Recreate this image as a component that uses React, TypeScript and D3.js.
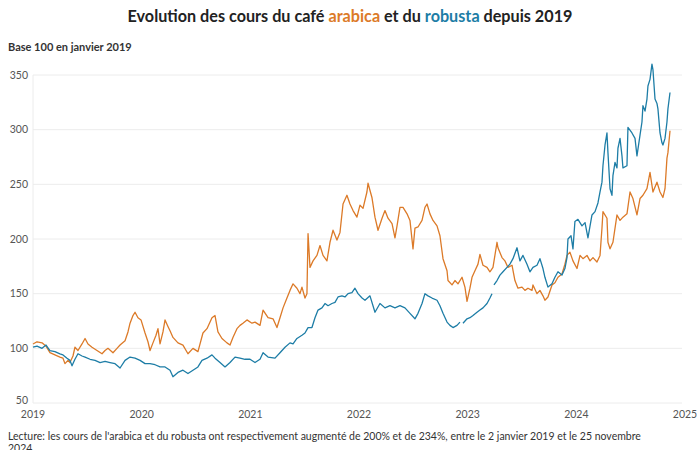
import React from 'react';
import * as d3 from 'd3';

const yearTicks = [2019, 2020, 2021, 2022, 2023, 2024, 2025];
const valueTicks = [50, 100, 150, 200, 250, 300, 350];

const arabicaT = [
  2019.000, 2019.037, 2019.083, 2019.120, 2019.156, 2019.202, 2019.248, 2019.276, 2019.294, 2019.322,
  2019.340, 2019.368, 2019.386, 2019.414, 2019.451, 2019.479, 2019.506, 2019.543, 2019.589, 2019.635,
  2019.663, 2019.690, 2019.736, 2019.773, 2019.801, 2019.847, 2019.874, 2019.893, 2019.920, 2019.939,
  2019.966, 2019.994, 2020.031, 2020.058, 2020.077, 2020.104, 2020.132, 2020.150, 2020.169, 2020.196,
  2020.215, 2020.242, 2020.261, 2020.288, 2020.334, 2020.380, 2020.426, 2020.472, 2020.518, 2020.564,
  2020.601, 2020.647, 2020.675, 2020.702, 2020.739, 2020.785, 2020.813, 2020.840, 2020.877, 2020.905,
  2020.932, 2020.969, 2021.015, 2021.043, 2021.089, 2021.117, 2021.163, 2021.209, 2021.245, 2021.273,
  2021.301, 2021.337, 2021.365, 2021.393, 2021.429, 2021.457, 2021.475, 2021.503, 2021.521, 2021.531,
  2021.549, 2021.577, 2021.613, 2021.641, 2021.669, 2021.705, 2021.733, 2021.761, 2021.797, 2021.825,
  2021.853, 2021.889, 2021.917, 2021.945, 2021.981, 2022.009, 2022.037, 2022.073, 2022.083, 2022.119,
  2022.147, 2022.175, 2022.212, 2022.239, 2022.267, 2022.304, 2022.331, 2022.350, 2022.377, 2022.405,
  2022.442, 2022.469, 2022.497, 2022.515, 2022.543, 2022.580, 2022.607, 2022.626, 2022.653, 2022.681,
  2022.718, 2022.745, 2022.773, 2022.810, 2022.819, 2022.856, 2022.883, 2022.911, 2022.948, 2022.975,
  2022.994, 2023.021, 2023.040, 2023.067, 2023.095, 2023.113, 2023.141, 2023.178, 2023.205, 2023.233,
  2023.270, 2023.279, 2023.316, 2023.343, 2023.371, 2023.408, 2023.435, 2023.463, 2023.500, 2023.527,
  2023.555, 2023.592, 2023.601, 2023.638, 2023.665, 2023.693, 2023.711, 2023.739, 2023.776, 2023.803,
  2023.831, 2023.868, 2023.895, 2023.914, 2023.941, 2023.969, 2024.006, 2024.034, 2024.061, 2024.098,
  2024.126, 2024.153, 2024.190, 2024.218, 2024.236, 2024.245, 2024.282, 2024.291, 2024.310, 2024.337,
  2024.374, 2024.402, 2024.429, 2024.466, 2024.494, 2024.521, 2024.558, 2024.586, 2024.613, 2024.650,
  2024.678, 2024.696, 2024.705, 2024.742, 2024.770, 2024.797, 2024.816, 2024.834, 2024.843, 2024.862,
];
const arabicaV = [
  104, 106, 105, 102, 96, 94, 92, 91, 86, 89,
  87, 93, 101, 98, 104, 109, 104, 101, 98, 95,
  98, 100, 96, 100, 103, 107, 115, 123, 130, 133,
  128, 126, 114, 106, 98, 105, 112, 118, 104, 115,
  126, 120, 116, 110, 105, 103, 95, 100, 97, 114,
  118, 128, 130, 115, 109, 105, 103, 110, 118, 121,
  123, 126, 123, 124, 121, 135, 128, 127, 119, 128,
  137, 146, 153, 159, 155, 150, 156, 146, 150, 205,
  174, 180, 185, 194, 185, 180, 197, 208, 199, 206,
  232, 240, 232, 226, 220, 231, 228, 243, 251, 238,
  220, 208, 219, 226, 219, 214, 201, 212, 229, 229,
  223, 217, 191, 210, 211, 217, 229, 232, 223, 217,
  212, 203, 182, 171, 162, 158, 162, 159, 165, 156,
  143, 155, 165, 171, 177, 186, 176, 174, 170, 174,
  197, 192, 183, 180, 174, 176, 162, 155, 156, 153,
  155, 153, 158, 150, 153, 148, 144, 147, 158, 160,
  165, 168, 177, 185, 188, 180, 173, 185, 182, 185,
  180, 183, 179, 185, 210, 225, 219, 197, 191, 197,
  222, 217, 220, 223, 243, 237, 222, 237, 240, 246,
  261, 249, 243, 252, 243, 238, 246, 274, 279, 299,
];

const robustaT = [
  2019.000, 2019.037, 2019.083, 2019.120, 2019.156, 2019.202, 2019.248, 2019.276, 2019.313, 2019.340,
  2019.359, 2019.386, 2019.414, 2019.451, 2019.479, 2019.525, 2019.571, 2019.617, 2019.663, 2019.709,
  2019.755, 2019.801, 2019.847, 2019.893, 2019.939, 2019.985, 2020.031, 2020.077, 2020.123, 2020.169,
  2020.215, 2020.261, 2020.288, 2020.334, 2020.380, 2020.426, 2020.472, 2020.518, 2020.555, 2020.601,
  2020.647, 2020.675, 2020.721, 2020.767, 2020.813, 2020.859, 2020.905, 2020.951, 2020.997, 2021.043,
  2021.089, 2021.117, 2021.163, 2021.227, 2021.273, 2021.319, 2021.365, 2021.393, 2021.429, 2021.475,
  2021.503, 2021.531, 2021.567, 2021.595, 2021.623, 2021.659, 2021.687, 2021.715, 2021.751, 2021.779,
  2021.807, 2021.843, 2021.871, 2021.899, 2021.935, 2021.963, 2021.991, 2022.028, 2022.055, 2022.101,
  2022.147, 2022.193, 2022.239, 2022.285, 2022.331, 2022.377, 2022.423, 2022.469, 2022.515, 2022.543,
  2022.580, 2022.607, 2022.635, 2022.672, 2022.718, 2022.745, 2022.773, 2022.810, 2022.837, 2022.865,
  2022.902, 2022.929, 2022.943, 2022.957, 2022.994, 2023.021, 2023.049, 2023.086, 2023.113, 2023.141,
  2023.178, 2023.205, 2023.224, 2023.230, 2023.242, 2023.270, 2023.297, 2023.325, 2023.362, 2023.389,
  2023.417, 2023.454, 2023.481, 2023.509, 2023.546, 2023.573, 2023.601, 2023.638, 2023.665, 2023.693,
  2023.711, 2023.739, 2023.776, 2023.803, 2023.831, 2023.868, 2023.895, 2023.914, 2023.923, 2023.951,
  2023.969, 2023.987, 2024.015, 2024.052, 2024.080, 2024.107, 2024.144, 2024.172, 2024.199, 2024.218,
  2024.236, 2024.245, 2024.264, 2024.282, 2024.291, 2024.310, 2024.328, 2024.337, 2024.356, 2024.374,
  2024.383, 2024.402, 2024.420, 2024.429, 2024.466, 2024.475, 2024.512, 2024.540, 2024.558, 2024.586,
  2024.604, 2024.613, 2024.632, 2024.650, 2024.659, 2024.678, 2024.696, 2024.705, 2024.724, 2024.742,
  2024.751, 2024.770, 2024.788, 2024.797, 2024.816, 2024.834, 2024.843, 2024.862,
];
const robustaV: (number | null)[] = [
  101, 102, 100, 103, 98, 97, 95, 94, 91, 89,
  84, 90, 95, 93, 92, 90, 89, 87, 88, 87,
  86, 82, 89, 92, 91, 89, 86, 86, 85, 83,
  83, 80, 74, 78, 80, 77, 80, 83, 89, 91,
  94, 91, 87, 83, 87, 92, 91, 90, 90, 87,
  90, 96, 92, 91, 96, 101, 105, 104, 109, 112,
  114, 119, 119, 128, 135, 137, 141, 139, 141, 142,
  147, 148, 147, 150, 151, 155, 150, 146, 144, 148,
  133, 141, 137, 139, 137, 139, 137, 132, 127, 132,
  141, 150, 148, 146, 144, 139, 132, 124, 121, 119,
  121, 124, null, 123, 127, 128, 130, 133, 135, 137,
  141, 146, 150, null, 158, 162, 167, 170, 174, 177,
  182, 192, 180, 185, 177, 170, 174, 176, 182, 173,
  165, 156, 159, 165, 170, 167, 173, 183, 200, 203,
  191, 216, 218, 212, 215, 201, 222, 225, 233, 243,
  252, 267, 286, 297, 279, 246, 240, 258, 270, 265,
  283, 292, 276, 265, 267, 302, 297, 292, 276, 295,
  307, 322, 317, 328, 340, 346, 360, 355, 328, 324,
  319, 297, 288, 286, 292, 307, 319, 334,
];

const ORANGE = '#dc7a28';
const BLUE = '#1d7da6';
const FONT = 'Lato, "Open Sans", sans-serif';

type Pt = [number, number | null];

export default function App() {
  const x = d3.scaleLinear().domain([2019, 2025]).range([33, 685]);
  const y = d3.scaleLinear().domain([50, 350]).range([403, 75]);

  const arabica: Pt[] = arabicaT.map((t, i) => [t, arabicaV[i]]);
  const robusta: Pt[] = robustaT.map((t, i) => [t, robustaV[i]]);

  const line = d3
    .line<Pt>()
    .defined((d) => d[1] != null)
    .x((d) => x(d[0]))
    .y((d) => y(d[1] as number));

  return (
    <svg
      width={700}
      height={450}
      style={{ position: 'absolute', left: 0, top: 0, display: 'block', background: '#fff' }}
      fontFamily={FONT}
    >
      <text x={350} y={22} textAnchor="middle" fontSize={16.2} fontWeight={700} fill="#222">
        Evolution des cours du café <tspan fill={ORANGE}>arabica</tspan> et du{' '}
        <tspan fill={BLUE}>robusta</tspan> depuis 2019
      </text>
      <text x={8} y={51} fontSize={11} fontWeight={700} fill="#333">
        Base 100 en janvier 2019
      </text>

      {valueTicks.map((v) => (
        <g key={v}>
          <line x1={33} x2={682} y1={y(v)} y2={y(v)} stroke="#ececec" strokeWidth={1} />
          <text x={28} y={v === 50 ? y(v) - 3 : y(v)} dy="0.35em" textAnchor="end" fontSize={10.5} fill="#555">
            {v}
          </text>
        </g>
      ))}
      <line x1={33} x2={33} y1={y(350)} y2={y(50)} stroke="#ececec" strokeWidth={1} />

      {yearTicks.map((t) => (
        <text key={t} x={x(t)} y={414} dy="0.35em" textAnchor="middle" fontSize={10.5} fill="#555">
          {t}
        </text>
      ))}

      <path d={line(arabica) || ''} fill="none" stroke={ORANGE} strokeWidth={1.3} strokeLinejoin="round" />
      <path d={line(robusta) || ''} fill="none" stroke={BLUE} strokeWidth={1.3} strokeLinejoin="round" />

      <text x={8} y={440} fontSize={10.5} fill="#333">
        Lecture: les cours de l'arabica et du robusta ont respectivement augmenté de 200% et de 234%, entre le 2 janvier 2019 et le 25 novembre
      </text>
      <text x={8} y={452} fontSize={10.5} fill="#333">
        2024
      </text>
    </svg>
  );
}
